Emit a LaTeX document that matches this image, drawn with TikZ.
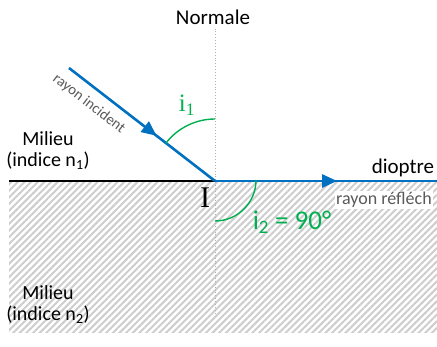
\documentclass[tikz,border=0pt]{standalone}
\usepackage{fontspec}
\setmainfont{Carlito}
\newfontfamily\seriffont{Liberation Serif}
\usepackage{xcolor}
\usepackage{tikz}
\usetikzlibrary{arrows.meta,positioning,patterns.meta,decorations.markings,calc}
\definecolor{raybleu}{RGB}{0,112,192}
\definecolor{anglevert}{RGB}{0,176,80}
\definecolor{hatchgray}{RGB}{205,205,205}
\definecolor{textgray}{RGB}{90,90,90}

\begin{document}
\begin{tikzpicture}[x=1pt, y=1pt,
    ray/.style={
      draw=raybleu, line width=2.6pt, postaction={decorate},
      decoration={markings, mark=at position #1 with {\arrow{Triangle[length=15pt,width=13pt]}}}
    },
    interface/.style={draw=black, line width=1.8pt},
    normalline/.style={draw=gray!60, dotted, line width=0.9pt},
    anglearc/.style={draw=anglevert, line width=1.4pt},
    lbl/.style={font=\fontsize{20}{21}\selectfont, align=center, inner sep=0pt},
    note/.style={font=\fontsize{15}{16}\selectfont, text=textgray, inner sep=1pt},
    anglelbl/.style={text=anglevert, inner sep=0pt}
  ]
  \useasboundingbox (0,0) rectangle (437,346);

  % points of the figure
  \coordinate (I)     at (215,165);
  \coordinate (src)   at (69,278);
  \coordinate (left)  at (9,165);
  \coordinate (right) at (437,165);
  \coordinate (nbot)  at (215,33);

  % lower medium
  \fill[pattern={Lines[angle=45,distance=4.7pt,line width=2pt]}, pattern color=hatchgray]
    (9,14) rectangle (437,165);

  \node[lbl, font=\fontsize{21}{22}\selectfont] (normale) at (213,329) {Normale};
  \draw[normalline] (normale.south) ++(2,-4) coordinate (ntop) -- (nbot);

  \draw[interface] (left) -- (I);
  \draw[ray=0.6] (src) -- (I);
  \draw[ray=0.55] (I) -- (right);

  % angles
  \draw[anglearc] ($(I)+(90:62)$) arc[start angle=90, end angle=142.3, radius=62];
  \draw[anglearc] ($(I)+(270:40)$) arc[start angle=270, end angle=360, radius=41];

  \node[anglelbl, font=\seriffont\fontsize{25}{25}\selectfont] (ione) at (187,241) {i\textsubscript{1}};
  \node[anglelbl, font=\fontsize{27}{28}\selectfont] (itwo) at (292,124) {i\textsubscript{2} = 90°};
  \node[inner sep=0pt, font=\seriffont\fontsize{30}{30}\selectfont] (Ilbl) at (205,148) {I};

  \node[lbl] (milieuA) at (48,195) {Milieu\\(indice n\textsubscript{1})};
  \node[lbl] (milieuB) at (48,41) {Milieu\\(indice n\textsubscript{2})};
  \node[lbl, font=\fontsize{21}{22}\selectfont] (dioptre) at (403,178) {dioptre};

  \node[note, rotate=-37.7] (incid) at (89,242) {rayon incident};
  \node[note, fill=white, anchor=west, font=\fontsize{18}{19}\selectfont] (refl) at (335,146) {rayon réfléch};
\end{tikzpicture}
\end{document}
